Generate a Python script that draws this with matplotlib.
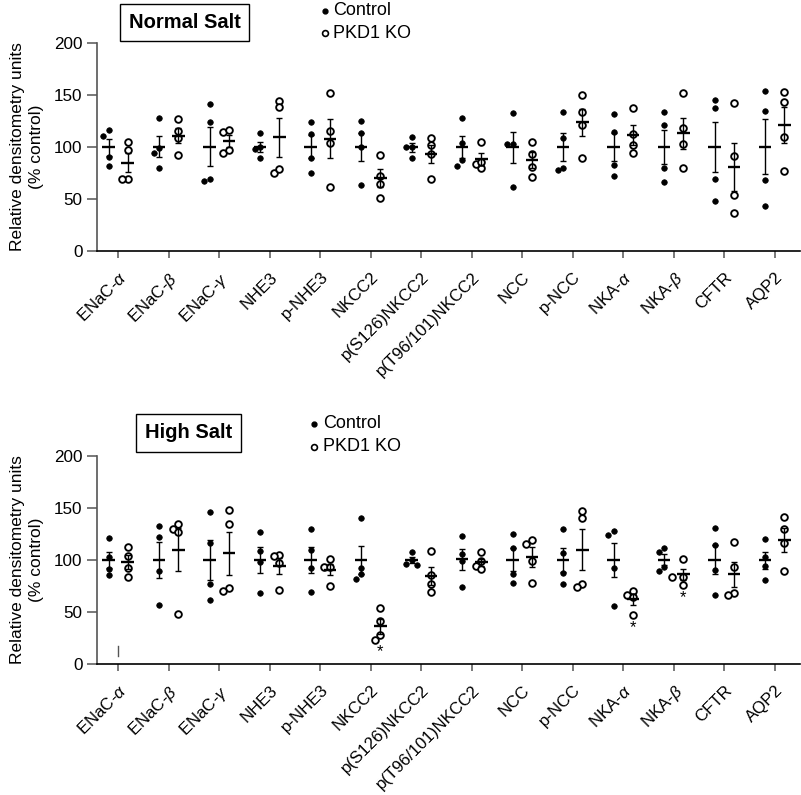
import numpy as np
import matplotlib.pyplot as plt
from matplotlib.lines import Line2D

plt.rcParams['font.family'] = ['Liberation Sans', 'DejaVu Sans']
plt.rcParams['mathtext.fontset'] = 'custom'
plt.rcParams['mathtext.it'] = 'Liberation Sans:italic'
plt.rcParams['mathtext.rm'] = 'Liberation Sans'

# Categories
proteins = ['ENaC-$\\alpha$', 'ENaC-$\\beta$', 'ENaC-$\\gamma$', 'NHE3', 'p-NHE3', 'NKCC2',
            'p(S126)NKCC2', 'p(T96/101)NKCC2', 'NCC', 'p-NCC', 'NKA-$\\alpha$',
            'NKA-$\\beta$', 'CFTR', 'AQP2']

# Normal salt, individual animals (% control)
normal_control = [
    [110.6, 115.7, 90.4, 81.1],
    [127.9, 98.4, 93.6, 79.8],
    [140.7, 123.7, 66.7, 68.6],
    [112.8, 100.0, 98.0, 88.8],
    [123.7, 111.9, 88.8, 74.7],
    [124.7, 112.8, 99.4, 62.8],
    [109.6, 100.0, 100.0, 88.8],
    [127.9, 103.2, 86.9, 81.7],
    [132.7, 102.2, 102.2, 60.9],
    [133.7, 108.0, 77.6, 79.8],
    [131.1, 114.4, 82.0, 71.8],
    [133.7, 120.8, 79.2, 65.7],
    [144.9, 136.9, 68.9, 47.8],
    [153.8, 134.6, 67.9, 43.3],
]
normal_ko = [
    [104.2, 96.8, 68.6, 68.6],
    [126.6, 115.4, 108.0, 91.7],
    [114.1, 116.0, 93.6, 96.8],
    [144.2, 138.5, 74.4, 78.8],
    [151.3, 115.4, 103.2, 60.9],
    [92.0, 71.8, 64.4, 51.0],
    [108.0, 101.6, 92.6, 68.9],
    [104.8, 79.8, 83.3, 85.6],
    [104.8, 93.0, 80.8, 70.8],
    [150.0, 133.7, 120.8, 88.8],
    [136.9, 112.2, 101.6, 94.2],
    [151.9, 117.6, 102.2, 79.8],
    [141.7, 91.0, 53.2, 35.9],
    [152.9, 142.9, 109.6, 76.9],
]

# High salt
high_control = [
    [120.8, 102.9, 91.3, 84.9],
    [132.7, 121.8, 88.8, 56.7],
    [145.8, 116.3, 76.6, 60.9],
    [126.9, 108.0, 97.8, 67.6],
    [129.5, 109.0, 92.0, 68.6],
    [140.1, 91.7, 85.9, 81.4],
    [107.0, 99.7, 95.8, 95.2],
    [122.8, 105.4, 99.0, 74.0],
    [125.0, 110.9, 85.9, 77.9],
    [129.8, 106.1, 86.9, 76.9],
    [127.9, 123.7, 91.7, 55.8],
    [111.2, 107.0, 92.6, 89.1],
    [130.8, 113.8, 89.7, 65.7],
    [119.9, 102.9, 94.2, 80.8],
]
high_ko = [
    [111.9, 103.8, 92.0, 83.0],
    [134.0, 129.8, 126.3, 47.8],
    [147.8, 134.6, 72.4, 69.6],
    [104.8, 103.8, 97.1, 70.8],
    [101.0, 93.3, 93.3, 74.7],
    [53.8, 41.0, 27.2, 22.4],
    [108.0, 84.9, 76.3, 68.6],
    [107.0, 98.4, 93.9, 90.7],
    [118.9, 114.7, 98.7, 77.9],
    [147.1, 139.7, 76.6, 74.0],
    [70.2, 66.0, 64.4, 46.8],
    [100.6, 83.7, 83.7, 75.6],
    [117.0, 93.0, 67.6, 65.7],
    [141.3, 129.8, 116.3, 88.8],
]

# significance marks in the high salt panel (KO column)
star_idx = [5, 10, 11]
star_y = [11.5, 34.5, 63.5]
stray_mark = [7.5, 17.0]  # short stray line under ENaC-alpha (high salt)

GRAY = '#555555'


def swarm(vals, xc, xscale=50.5, yscale=1.04, d=5.5):
    # simple beeswarm so overlapping points sit side by side
    order = np.argsort(vals)[::-1]
    placed = []
    xs = np.zeros(len(vals))
    for i in order:
        y = vals[i]
        for k in [0, -1, 1, -2, 2, -3, 3]:
            x = xc + k * d / xscale
            ok = True
            for (px, py) in placed:
                if np.hypot((x - px) * xscale, (y - py) * yscale) < d:
                    ok = False
                    break
            if ok:
                break
        xs[i] = x
        placed.append((x, y))
    return xs


def draw_group(ax, vals, xc, filled):
    vals = np.array(vals)
    xs = swarm(vals, xc)
    if filled:
        ax.plot(xs, vals, 'o', ms=4.0, mfc='black', mec='black', mew=0.5, clip_on=False, zorder=3)
    else:
        ax.plot(xs, vals, 'o', ms=4.8, mfc='white', mec='black', mew=1.35, clip_on=False, zorder=3)
    m = vals.mean()
    sem = vals.std(ddof=1) / np.sqrt(len(vals))
    ax.errorbar([xc], [m], yerr=[sem], fmt='none', ecolor='black', elinewidth=1.0,
                capsize=2.3, capthick=1.0, zorder=4)
    ax.hlines(m, xc - 0.125, xc + 0.125, color='black', lw=1.7, zorder=5)


def setup_panel(ax, control, ko):
    x = np.arange(len(proteins))
    for i in x:
        draw_group(ax, control[i], i - 0.19, True)
        draw_group(ax, ko[i], i + 0.19, False)
    ax.set_xlim(-0.43, 13.5)
    ax.set_ylim(0, 200)
    ax.set_yticks([0, 50, 100, 150, 200])
    ax.set_xticks(x)
    ax.set_xticklabels(proteins, rotation=45, ha='right', va='top', rotation_mode='anchor',
                       fontsize=12.2)
    ax.tick_params(axis='y', labelsize=12.3, length=7, width=1.1, color=GRAY, pad=3)
    ax.tick_params(axis='x', length=5, width=1.1, color=GRAY, pad=8.5)
    ax.spines['top'].set_visible(False)
    ax.spines['right'].set_visible(False)
    ax.spines['left'].set_color(GRAY)
    ax.spines['left'].set_linewidth(1.2)
    ax.spines['bottom'].set_color('black')
    ax.spines['bottom'].set_linewidth(1.2)


fig = plt.figure(figsize=(8.01, 7.95), dpi=100)
W, H = 801.0, 795.0


def fx(px):
    return px / W


def fy(py):
    return 1 - py / H


ax1 = fig.add_axes([fx(96.5), fy(250.7), fx(800) - fx(96.5), (250.7 - 42.7) / H])
ax2 = fig.add_axes([fx(96.5), fy(663.7), fx(800) - fx(96.5), (663.7 - 455.7) / H])

setup_panel(ax1, normal_control, normal_ko)
setup_panel(ax2, high_control, high_ko)

for i, y in zip(star_idx, star_y):
    ax2.text(i + 0.19, y, '*', ha='center', va='center', fontsize=12)
ax2.plot([0, 0], stray_mark, color=GRAY, lw=1.0)

# y labels
for yc in [fy(146.7), fy(559.7)]:
    fig.text(fx(27), yc, 'Relative densitometry units\n(% control)', rotation=90,
             ha='center', va='center', fontsize=12.5, linespacing=1.25)

# panel titles
fig.text(fx(184.5), fy(22.5), 'Normal Salt', ha='center', va='center', fontsize=14.5,
         fontweight='bold',
         bbox=dict(boxstyle='square,pad=0.45', fc='white', ec='black', lw=1.0))
fig.text(fx(188.5), fy(433), 'High Salt', ha='center', va='center', fontsize=14.5,
         fontweight='bold',
         bbox=dict(boxstyle='square,pad=0.45', fc='white', ec='black', lw=1.0))

# legends
for (mx, my1, my2, tx) in [(325, 10.7, 33.3, 333), (314, 424, 446.7, 323)]:
    fig.add_artist(Line2D([fx(mx)], [fy(my1)], marker='o', ms=3.5, mfc='black', mec='black',
                          ls='none', transform=fig.transFigure))
    fig.add_artist(Line2D([fx(mx)], [fy(my2)], marker='o', ms=4.2, mfc='white', mec='black',
                          mew=1.2, ls='none', transform=fig.transFigure))
    fig.text(fx(tx), fy(my1), 'Control', ha='left', va='center', fontsize=13)
    fig.text(fx(tx), fy(my2), 'PKD1 KO', ha='left', va='center', fontsize=13)

fig.savefig('out.png', dpi=100)
